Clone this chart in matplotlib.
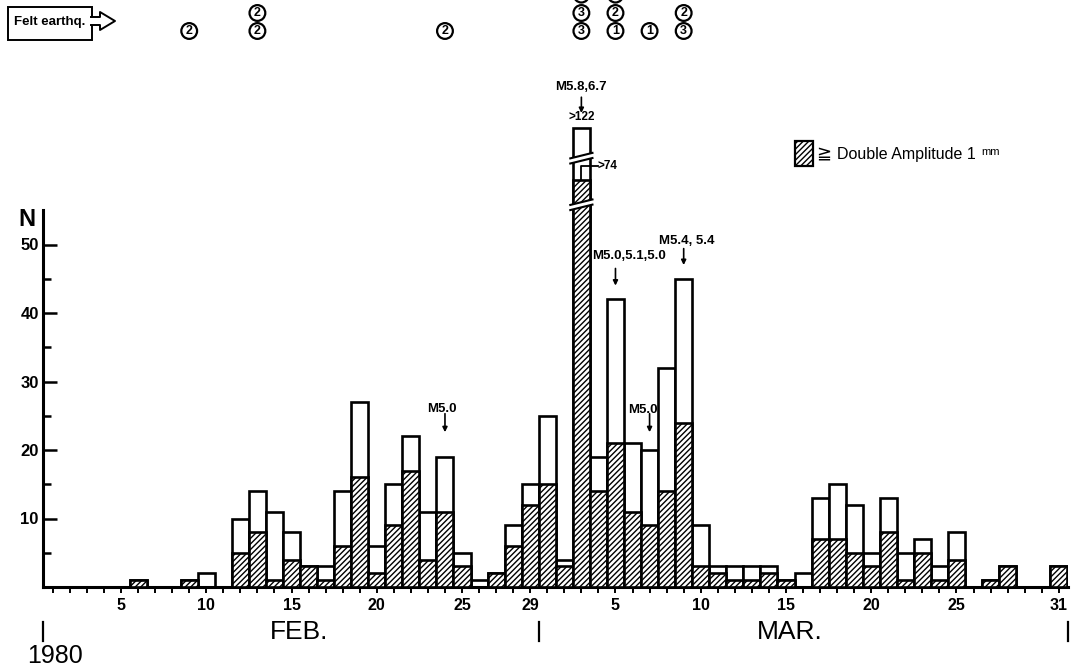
import numpy as np
import matplotlib
matplotlib.use("Agg")
import matplotlib.pyplot as plt
from matplotlib.patches import Rectangle, Polygon, Ellipse
from matplotlib.lines import Line2D

plt.rcParams['font.family'] = ['Liberation Sans', 'DejaVu Sans', 'Noto Sans CJK JP']
plt.rcParams['hatch.linewidth'] = 1.0

# ---------------- data ----------------
# day index: Feb 1 = 1 ... Feb 29 = 29, Mar 1 = 30 ... Mar 31 = 60
days = np.arange(1, 61)
total_counts = [0, 0, 0, 0, 0, 1, 0, 0, 1, 2,
                0, 10, 14, 11, 8, 3, 3, 14, 27, 6,
                15, 22, 11, 19, 5, 1, 2, 9, 15,
                25, 4, 122, 19, 42, 21, 20, 32, 45, 9,
                3, 3, 3, 3, 1, 2, 13, 15, 12, 5,
                13, 5, 7, 3, 8, 0, 1, 3, 0, 0, 3]
hatched_counts = [0, 0, 0, 0, 0, 1, 0, 0, 1, 0,
                  0, 5, 8, 1, 4, 3, 1, 6, 16, 2,
                  9, 17, 4, 11, 3, 0, 2, 6, 12,
                  15, 3, 74, 14, 21, 11, 9, 14, 24, 3,
                  2, 1, 1, 2, 1, 0, 7, 7, 5, 3,
                  8, 1, 5, 1, 4, 0, 1, 3, 0, 0, 3]
tick_days = [5, 10, 15, 20, 25, 29, 34, 39, 44, 49, 54, 60]
tick_labels = ['5', '10', '15', '20', '25', '29', '5', '10', '15', '20', '25', '31']
y_ticks = [10, 20, 30, 40, 50]
# felt earthquakes: (day, intensities from bottom to top)
felt_days = [9, 13, 24, 32, 34, 36, 38]
felt_values = [[2], [2, 2], [2], [3, 3], [1, 2], [1], [3, 2]]
# circles cut by the top edge (digits not legible)
felt_cut_days = [32, 34]
# magnitude annotations
mag_days = [32, 34, 38, 24, 36]
mag_texts = ['M5.8,6.7', 'M5.0,5.1,5.0', 'M5.4, 5.4', 'M5.0', 'M5.0']

# broken-axis scale for the off-scale bar
brk_in = [0, 55, 74, 122]
brk_out = [0, 55, 59.4, 67]
def disp(v):
    return np.interp(v, brk_in, brk_out)

W, H = 1073, 671
fig = plt.figure(figsize=(W / 100, H / 100), dpi=100)
fig.patch.set_facecolor('white')

def P(x, y):
    return (x / W, 1 - y / H)

PXU = 6.85  # pixels per count
ax = fig.add_axes([43 / W, (H - 587) / H, (1068 - 43) / W, 587 / H])
ax.set_xlim(0.425, 60.54)
ax.set_ylim(0, 587 / PXU)
ax.patch.set_alpha(0)

tot = np.array(total_counts, float)
hat = np.array(hatched_counts, float)
tot_d = disp(tot)
hat_d = disp(hat)
m = tot > 0
ax.bar(days[m], tot_d[m], width=1.0, facecolor='white', edgecolor='black', linewidth=1.9, zorder=2)
mh = hat > 0
ax.bar(days[mh], hat_d[mh], width=1.0, facecolor='white', edgecolor='black', linewidth=1.9,
       hatch='//////', zorder=3)

# break marks on the off-scale bar
big = int(np.argmax(tot))
bd = days[big]
xl, xr = bd - 0.5 - 0.15, bd + 0.5 + 0.15
for yc in (55.8, 62.6):
    g, s = 0.75, 0.8
    poly = Polygon([(xl, yc - g / 2 - s / 2), (xr, yc - g / 2 + s / 2),
                    (xr, yc + g / 2 + s / 2), (xl, yc + g / 2 - s / 2)],
                   closed=True, facecolor='white', edgecolor='none', zorder=5)
    ax.add_patch(poly)
    ax.plot([xl, xr], [yc - g / 2 - s / 2, yc - g / 2 + s / 2], color='black', lw=1.5, zorder=6)
    ax.plot([xl, xr], [yc + g / 2 - s / 2, yc + g / 2 + s / 2], color='black', lw=1.5, zorder=6)

ax.text(bd, disp(tot[big]) + 0.7, '>%d' % int(tot[big]), ha='center', va='bottom',
        fontsize=8.5, fontweight='bold', zorder=7)
# >74 pointer
yv = disp(hat[big])
ax.plot([bd - 0.05, bd - 0.05, bd + 0.95], [yv, 61.5, 61.5], color='black', lw=1.3, zorder=7)
ax.text(bd + 0.95, 61.5, '>%d' % int(hat[big]), ha='left', va='center', fontsize=8.5,
        fontweight='bold', zorder=7)

# magnitude annotations (text y, arrow start, arrow end in counts)
mag_pos = [(73.0, 71.5, 69.2), (48.3, 46.5, 44.0), (50.5, 49.4, 47.0), (26.0, 25.3, 22.6), (25.8, 25.3, 22.6)]
mag_dx = [0.0, 0.8, 0.2, -0.2, -0.4]
for d, t, (ty, a0, a1), dx in zip(mag_days, mag_texts, mag_pos, mag_dx):
    ax.text(d + dx, ty, t, ha='center', va='center', fontsize=9.5, fontweight='bold')
    ax.annotate('', xy=(d, a1), xytext=(d, a0),
                arrowprops=dict(arrowstyle='-|>', color='black', lw=1.2,
                                mutation_scale=7, shrinkA=0, shrinkB=0))

# axes styling
for sp in ('top', 'right'):
    ax.spines[sp].set_visible(False)
ax.spines['left'].set_bounds(0, 55)
ax.spines['left'].set_linewidth(2.2)
ax.spines['bottom'].set_linewidth(2.2)
ax.set_yticks(y_ticks)
ax.set_yticklabels([str(v) for v in y_ticks], fontsize=12, fontweight='bold')
ax.set_yticks([5, 15, 25, 35, 45], minor=True)
ax.tick_params(axis='y', which='major', direction='in', length=10, width=1.8, pad=3)
ax.tick_params(axis='y', which='minor', direction='in', length=6, width=1.8)
ax.set_xticks(days)
lab = {d: l for d, l in zip(tick_days, tick_labels)}
ax.set_xticklabels([lab.get(d, '') for d in days], fontsize=11.5, fontweight='bold')
ax.tick_params(axis='x', direction='out', length=4, width=1.4, pad=4)
fig.text(*P(27, 220), 'N', ha='center', va='center', fontsize=17, fontweight='bold')

# month labels & separators
for xp in (43, 539, 1068):
    fig.add_artist(Line2D([xp / W, xp / W], [1 - 622 / H, 1 - 641 / H], color='black', lw=1.6,
                          transform=fig.transFigure))
fig.text(*P(299, 632), 'FEB.', ha='center', va='center', fontsize=19)
fig.text(*P(790, 632), 'MAR.', ha='center', va='center', fontsize=19)
fig.text(*P(55, 656), '1980', ha='center', va='center', fontsize=18)

# legend
fig.add_artist(Rectangle(P(795, 166), 18 / W, 25 / H, transform=fig.transFigure,
                         facecolor='white', edgecolor='black', lw=1.6, hatch='//////'))
fig.text(*P(824, 154), '≧', ha='center', va='center', fontsize=13,
         family=['DejaVu Sans', 'Noto Sans CJK JP'])
fig.text(*P(837, 155), 'Double Amplitude 1', ha='left', va='center', fontsize=11.5)
fig.text(*P(981, 152), 'mm', ha='left', va='center', fontsize=8)

# felt earthquake header
fig.add_artist(Rectangle(P(8, 40), 84 / W, 33 / H, transform=fig.transFigure,
                         facecolor='white', edgecolor='black', lw=1.4))
arrow_pts = [(91, 17), (100, 17), (100, 12), (115, 21), (100, 30), (100, 25), (91, 25)]
fig.add_artist(Polygon([P(x, y) for x, y in arrow_pts], closed=False, transform=fig.transFigure,
                       facecolor='white', edgecolor='none', zorder=3))
fig.add_artist(Line2D([p[0] / W for p in arrow_pts[:]], [1 - p[1] / H for p in arrow_pts[:]],
                      color='black', lw=1.4, transform=fig.transFigure, zorder=4))
fig.text(*P(50, 22), 'Felt earthq.', ha='center', va='center', fontsize=9.5, fontweight='bold')

row_y = [31, 13, -5]
for d, vals in zip(felt_days, felt_values):
    xp = ax.transData.transform((d, 0))[0]
    for i, v in enumerate(vals):
        fig.text(xp / W, 1 - row_y[i] / H, str(v), ha='center', va='center', fontsize=9,
                 fontweight='bold',
                 bbox=dict(boxstyle='circle,pad=0.15', facecolor='white', edgecolor='black', lw=1.6))
for d in felt_cut_days:
    xp = ax.transData.transform((d, 0))[0]
    fig.add_artist(Ellipse(P(xp, row_y[2]), 15 / W, 15 / H, transform=fig.transFigure,
                           facecolor='white', edgecolor='black', lw=1.6))

fig.savefig('out.png', dpi=100, facecolor='white')
